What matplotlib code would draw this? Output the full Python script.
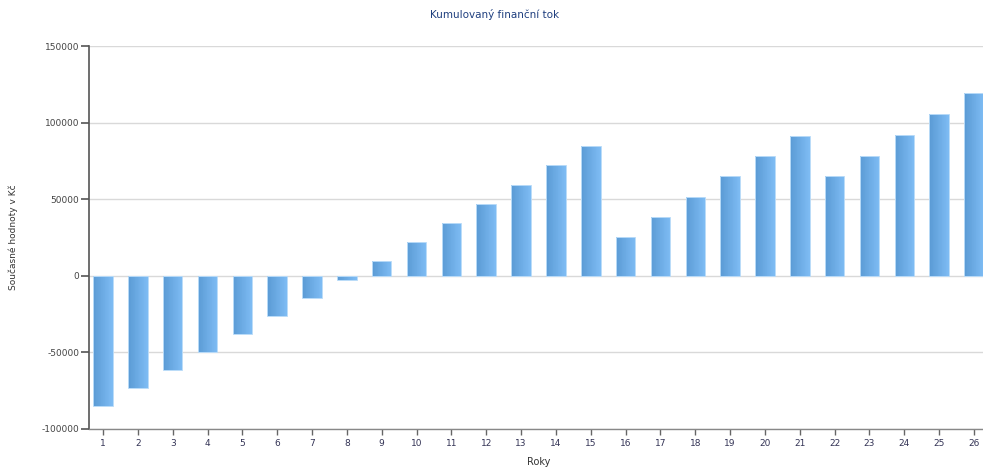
import matplotlib
matplotlib.use("Agg")
import matplotlib.pyplot as plt
from matplotlib.colors import LinearSegmentedColormap
import numpy as np

plt.rcParams["axes.unicode_minus"] = False

roky = list(range(1, 27))
hodnoty = [-85000, -73000, -61500, -50000, -38000, -26000, -14500, -3000,
           9500, 22000, 34500, 47000, 59500, 72000, 84500, 25500, 38500,
           51500, 65000, 78000, 91500, 65000, 78500, 92000, 105500, 119000]

fig = plt.figure(figsize=(9.83, 4.70), dpi=100)
ax = fig.add_axes([89 / 983, 41 / 470, 899 / 983, 383 / 470])

grad = LinearSegmentedColormap.from_list("g", ["#5b9bd5", "#7dbbf3"])
width = 0.56
n = 24
step = width / n
# gradient fill: each bar built from thin vertical strips
for i in range(n):
    off = -width / 2 + (i + 0.5) * step
    ax.bar([r + off for r in roky], hodnoty, width=step * 1.05,
           color=grad(i / (n - 1)), linewidth=0, zorder=2)
ax.bar(roky, hodnoty, width=width, color="none", edgecolor="#b9dbf8",
       linewidth=0.7, zorder=3)

ax.set_xlim(1 - 14 / 34.84, 26 + 14 / 34.84)
ax.set_ylim(-100000, 150000)
ax.set_yticks(np.arange(-100000, 150001, 50000))
ax.set_xticks(roky)

ax.grid(axis="y", color="#d9d9d9", linewidth=1, zorder=0)
ax.set_axisbelow(True)
for s in ["top", "right"]:
    ax.spines[s].set_visible(False)
ax.spines["left"].set_color("#555555")
ax.spines["left"].set_linewidth(1.2)
ax.spines["bottom"].set_color("#888888")
ax.spines["bottom"].set_linewidth(1)

ax.tick_params(axis="y", length=6, width=1.2, color="#555555",
               labelsize=6.5, labelcolor="#444444", pad=1)
ax.tick_params(axis="x", length=4, width=1, color="#666666",
               labelsize=6.5, labelcolor="#333355", pad=3)

ax.set_xlabel("Roky", fontsize=7, color="#333333", labelpad=7)
ax.set_ylabel("Současné hodnoty v Kč", fontsize=6.5, color="#333333")
ax.yaxis.set_label_coords((18 - 89) / 899, 0.5)
fig.text(495 / 983, 1 - 15 / 470, "Kumulovaný finanční tok", ha="center",
         va="center", fontsize=7.5, color="#1f3f7f")

plt.savefig("out.png", dpi=100)
